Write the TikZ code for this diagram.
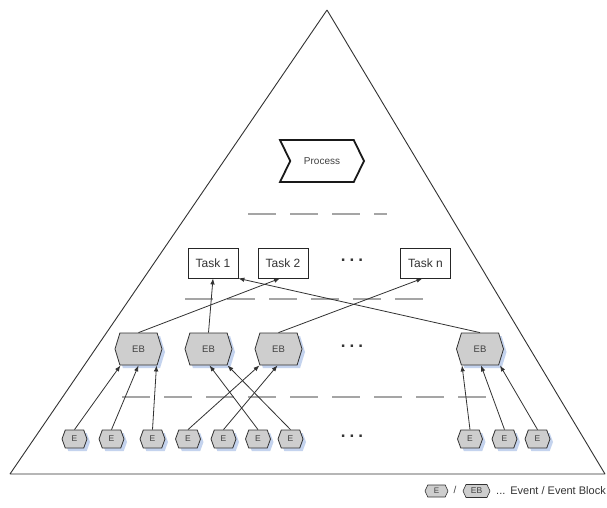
\documentclass[tikz,border=0pt]{standalone}
\usepackage{fontspec}
\setmainfont{Liberation Sans}
\usetikzlibrary{shapes.symbols,shadows,arrows.meta}
\definecolor{shadowblue}{RGB}{196,211,238}
\definecolor{boxgray}{RGB}{206,206,206}
\definecolor{linegray}{RGB}{50,50,50}
\definecolor{dashgray}{RGB}{165,165,165}
\begin{document}
\begin{tikzpicture}[x=1pt,y=-1pt,
  hexbase/.style={signal, signal to=east and west, draw=linegray, line width=0.8pt, fill=boxgray, inner sep=0pt, text=black!75},
  evt/.style={hexbase, signal pointer angle=140, minimum width=25pt, minimum height=18pt, font=\fontsize{8.5}{9}\selectfont,
    drop shadow={fill=shadowblue, shadow xshift=3pt, shadow yshift=-3pt, opacity=1}},
  evtblock/.style={hexbase, signal pointer angle=146, minimum width=47pt, minimum height=32pt, font=\fontsize{9.5}{10}\selectfont,
    drop shadow={fill=shadowblue, shadow xshift=3pt, shadow yshift=-3pt, opacity=1}},
  legevt/.style={hexbase, signal pointer angle=130, minimum width=23pt, minimum height=12pt, line width=0.6pt, font=\fontsize{8}{9}\selectfont},
  legblock/.style={hexbase, signal pointer angle=130, minimum width=27pt, minimum height=13pt, line width=0.6pt, font=\fontsize{8.5}{9}\selectfont},
  taskbox/.style={draw=black!85, line width=0.8pt, minimum width=50pt, minimum height=30pt, inner sep=0pt, font=\fontsize{12}{13}\selectfont, text=black!80},
  procbox/.style={signal, signal from=west, signal to=east, signal pointer angle=128, draw=black!90, line width=1.8pt, fill=white,
    minimum width=84pt, minimum height=42pt, inner sep=0pt, font=\fontsize{10}{11}\selectfont, text=black!75},
  dots/.style={font=\bfseries\fontsize{17}{17}\selectfont, inner sep=0pt, text=black!80},
  dashrow/.style={draw=dashgray, line width=1.5pt, dash pattern=on 28pt off 14pt},
  conn/.style={draw=linegray, line width=0.8pt, -{Latex[length=6pt,width=4.5pt]}}
]
\useasboundingbox (0,0) rectangle (607,507);
\fill[white] (0,0) rectangle (607,507);

% big triangle
\draw[draw=linegray, line width=0.9pt, line join=bevel] (10,474) -- (327,10) -- (605,474) -- cycle;

% separator rows
\draw[dashrow] (248,214) -- (387,214);
\draw[dashrow] (185,299) -- (423,299);
\draw[dashrow] (122,397) -- (487,397);

% process
\node[procbox] (proc) at (322,161) {Process};

% tasks
\node[taskbox] (t1) at (213,263) {Task 1};
\node[taskbox] (t2) at (283,263) {Task 2};
\node[taskbox] (tn) at (425.5,263) {Task n};
\node[dots] (tdots) at (352,260) {.\hspace{4pt}.\hspace{4pt}.};

% event blocks
\node[evtblock] (eb1) at (138.5,349) {EB};
\node[evtblock] (eb2) at (208.5,349) {EB};
\node[evtblock] (eb3) at (278.5,349) {EB};
\node[evtblock] (eb4) at (480,349) {EB};
\node[dots] (ebdots) at (352,346) {.\hspace{4pt}.\hspace{4pt}.};

% events
\node[evt] (e1) at (74.5,439) {E};
\node[evt] (e2) at (111.5,439) {E};
\node[evt] (e3) at (152.5,439) {E};
\node[evt] (e4) at (188,439) {E};
\node[evt] (e5) at (223.5,439) {E};
\node[evt] (e6) at (258,439) {E};
\node[evt] (e7) at (290.5,439) {E};
\node[evt] (e8) at (470,439) {E};
\node[evt] (e9) at (504.5,439) {E};
\node[evt] (e10) at (537.5,439) {E};
\node[dots] (edots) at (352,436) {.\hspace{4pt}.\hspace{4pt}.};

% event -> event block
\draw[conn] (e1.north) -- ([xshift=-18pt]eb1.south);
\draw[conn] (e2.north) -- (eb1.south);
\draw[conn] (e3.north) -- ([xshift=18pt]eb1.south);
\draw[conn] (e6.north) -- ([xshift=1pt]eb2.south);
\draw[conn] (e7.north) -- ([xshift=19pt]eb2.south);
\draw[conn] (e4.north) -- ([xshift=-19pt]eb3.south);
\draw[conn] (e5.north) -- ([xshift=-1pt]eb3.south);
\draw[conn] (e8.north) -- ([xshift=-18pt]eb4.south);
\draw[conn] (e9.north) -- ([xshift=1pt]eb4.south);
\draw[conn] (e10.north) -- ([xshift=20pt]eb4.south);

% event block -> task
\draw[conn] (eb1.north) -- ([xshift=-3pt]t2.south);
\draw[conn] (eb2.north) -- (t1.south);
\draw[conn] (eb3.north) -- ([xshift=-3pt]tn.south);
\draw[conn] (eb4.north) -- (t1.south east);

% legend
\node[legevt] (lege) at (436.5,491) {E};
\node[font=\fontsize{10}{11}\selectfont, text=black!75, inner sep=0pt] (legslash) at (455,490) {/};
\node[legblock] (legeb) at (476.5,491) {EB};
\node[anchor=west, font=\fontsize{11}{12}\selectfont, text=black!80, inner sep=0pt] (legtext) at (496,491) {...\hspace{5pt}Event / Event Block};
\end{tikzpicture}
\end{document}
